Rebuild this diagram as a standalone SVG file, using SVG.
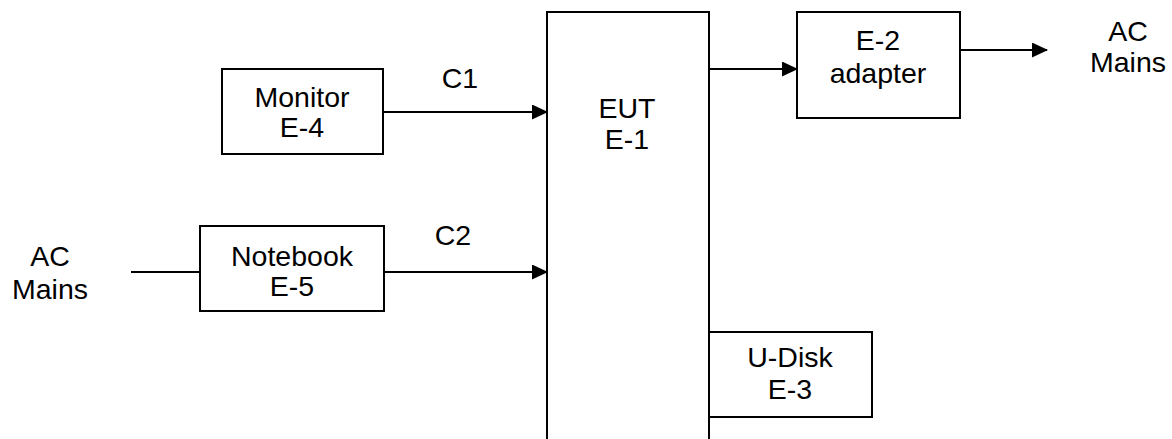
<svg xmlns="http://www.w3.org/2000/svg" width="1172" height="439" viewBox="0 0 1172 439">
<style>
.box{fill:#fff;stroke:#000;stroke-width:2}
.ln{stroke:#000;stroke-width:2;fill:none}
text{font-family:"Liberation Sans",Arial,sans-serif;font-size:28.5px;fill:#000;text-anchor:middle}
</style>
<defs>
<marker id="ah" markerWidth="16" markerHeight="15" refX="15" refY="7.5" orient="auto" markerUnits="userSpaceOnUse">
<path d="M0,0 L16,7.5 L0,15 Z" fill="#000"/>
</marker>
</defs>
<g id="connectors">
<line class="ln" x1="383" y1="112" x2="547" y2="112" marker-end="url(#ah)"/>
<line class="ln" x1="131" y1="272" x2="200" y2="272"/>
<line class="ln" x1="384" y1="272" x2="547" y2="272" marker-end="url(#ah)"/>
<line class="ln" x1="709" y1="69" x2="797" y2="69" marker-end="url(#ah)"/>
<line class="ln" x1="960" y1="50" x2="1047" y2="50" marker-end="url(#ah)"/>
<text x="460" y="88">C1</text>
<text x="453" y="245">C2</text>
</g>
<g id="eut">
<path class="box" d="M547,445 L547,12 L709,12 L709,445"/>
<text x="627" y="118">EUT</text>
<text x="627" y="149">E-1</text>
</g>
<g id="monitor">
<rect class="box" x="222" y="69" width="161" height="85"/>
<text x="302" y="107">Monitor</text>
<text x="302" y="137">E-4</text>
</g>
<g id="notebook">
<rect class="box" x="200" y="226" width="184" height="85"/>
<text x="292" y="266">Notebook</text>
<text x="292" y="296">E-5</text>
</g>
<g id="adapter">
<rect class="box" x="797" y="12" width="163" height="106"/>
<text x="878" y="50">E-2</text>
<text x="878" y="83">adapter</text>
</g>
<g id="udisk">
<rect class="box" x="709" y="332" width="163" height="85"/>
<text x="790" y="367">U-Disk</text>
<text x="790" y="399">E-3</text>
</g>
<g id="ac-left">
<text x="50" y="266">AC</text>
<text x="50" y="299">Mains</text>
</g>
<g id="ac-right">
<text x="1128" y="41">AC</text>
<text x="1128" y="72">Mains</text>
</g>
</svg>
